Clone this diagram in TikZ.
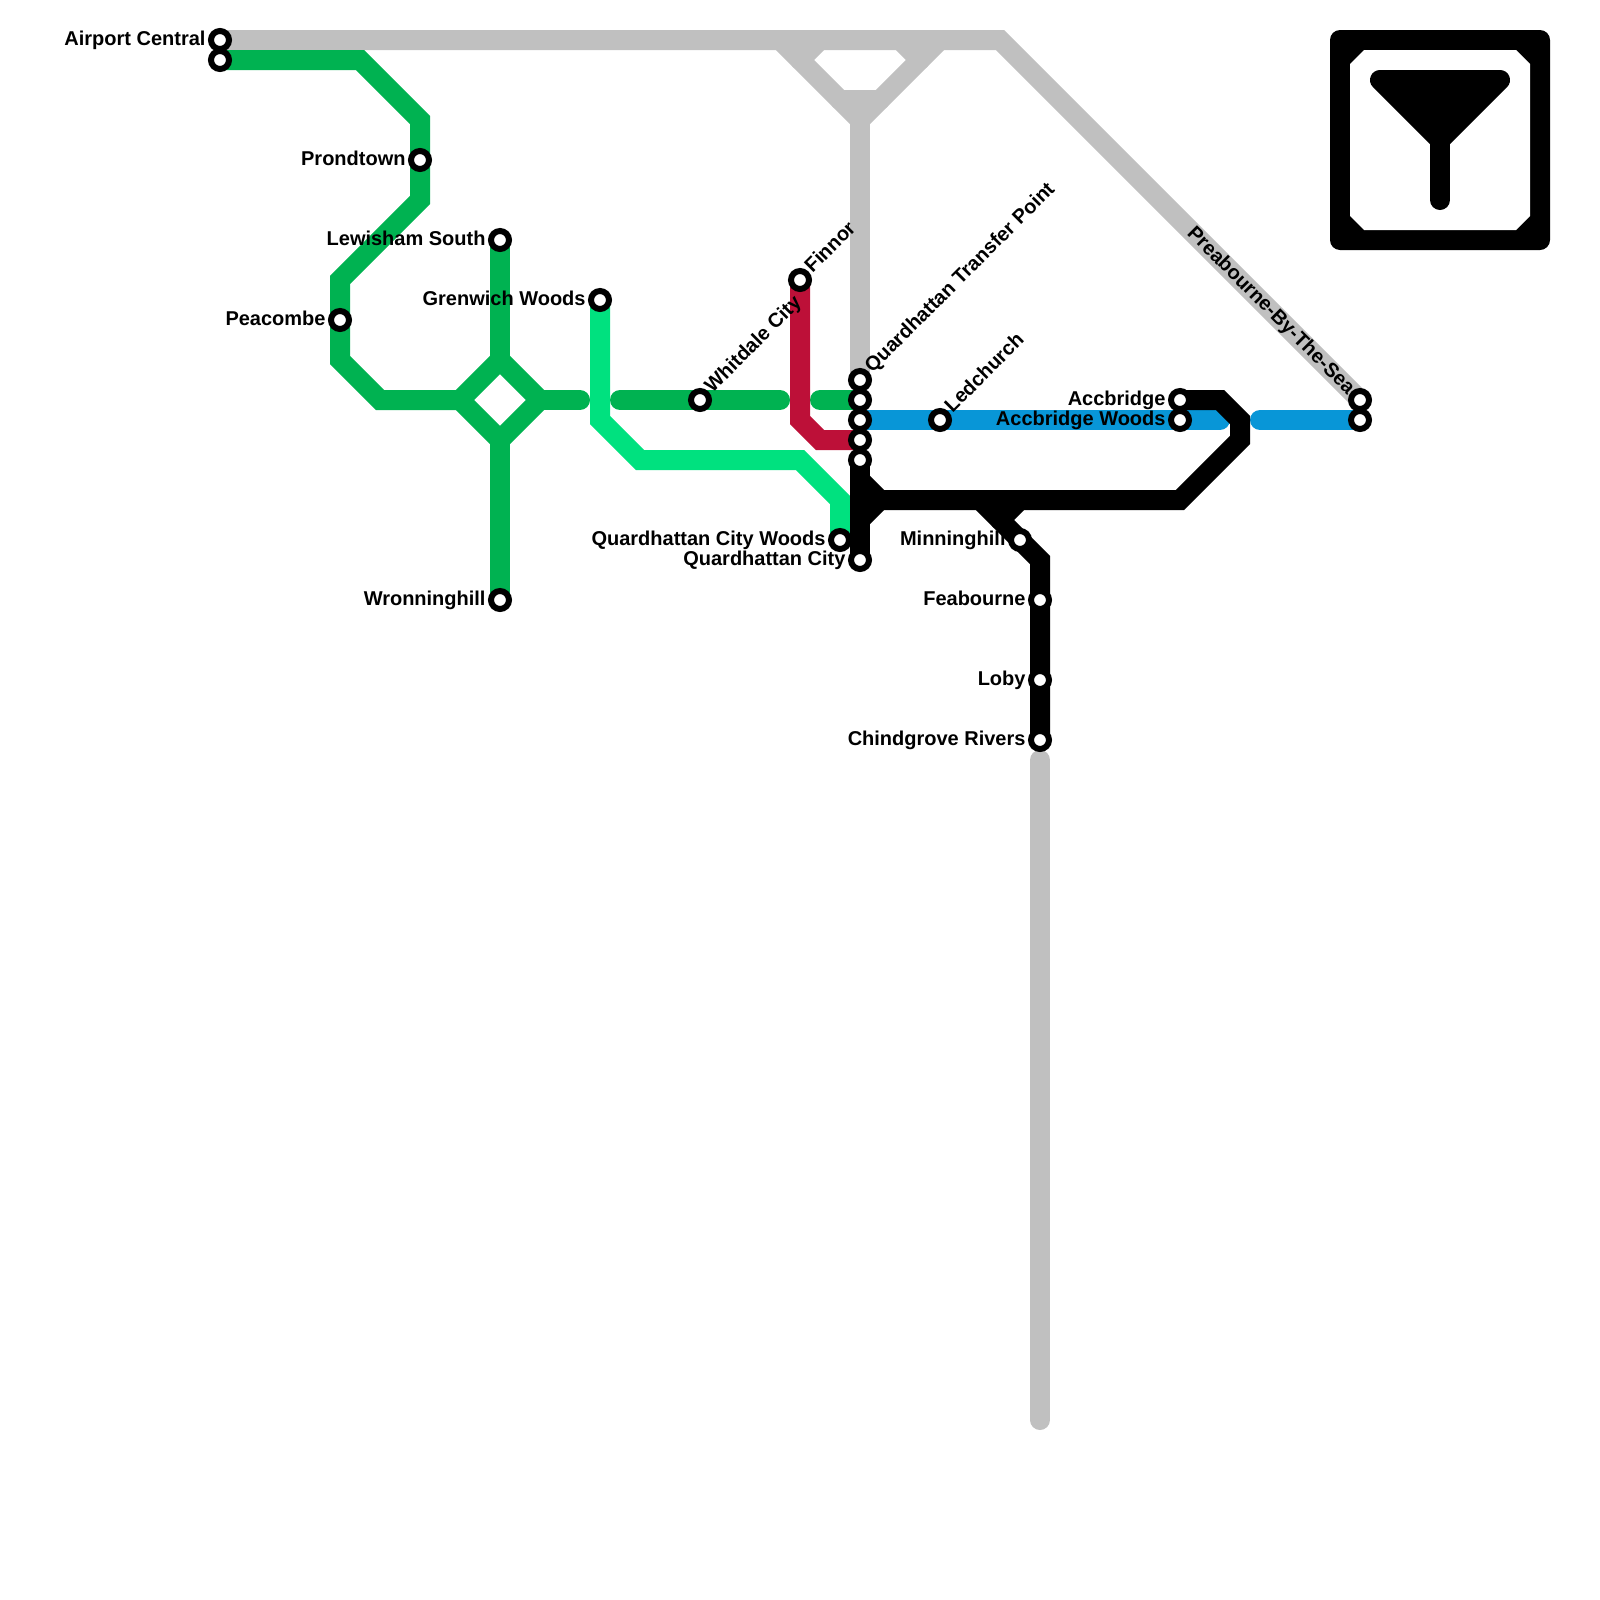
\documentclass[tikz,border=0pt]{standalone}
\usepackage{fontspec}
\setmainfont{Liberation Sans}
\usetikzlibrary{positioning, backgrounds}
\definecolor{gris}{HTML}{C0C0C0}
\definecolor{verde}{HTML}{00B251}
\definecolor{menta}{HTML}{00E17F}
\definecolor{rojo}{HTML}{BD1038}
\definecolor{azul}{HTML}{0896D7}
\tikzset{
  every picture/.style={x=0.5cm, y=-0.5cm},
  ruta/.style={line width=0.5cm, line cap=round, line join=miter},
  stn/.style={circle, draw=black, fill=white, line width=0.15cm, minimum size=0.45cm, inner sep=0pt},
  etq/.style={font=\fontsize{14.22pt}{16pt}\selectfont\bfseries, text=black, inner sep=0pt, text height=8pt, text depth=0pt},
}

\begin{document}
\begin{tikzpicture}
  \useasboundingbox (0,0) rectangle (80,80);
  \foreach \n/\x/\y in {airporta/11/2,airportb/11/3,prond/21/8,lewis/25/12,peac/17/16,gren/30/15,
    wronn/25/30,whit/35/20,finnor/40/14,qtp/43/19,qb/43/20,qc/43/21,qd/43/22,qe/43/23,ledch/47/21,
    accb/59/20,accbw/59/21,preaa/68/20,preab/68/21,qcw/42/27,qcity/43/28,minn/51/27,
    fea/52/30,loby/52/34,chind/52/37} {
    \node[stn] (\n) at (\x,\y) {};
  }
  \coordinate (top1) at (41,2);
  \coordinate (top2) at (45,2);
  \coordinate (tail) at (52,71);
  \coordinate (tailb) at (52,38);

  % lines go under the stations
  \begin{scope}[on background layer]
    \draw[ruta, gris] (airporta.center) -- (50,2) -- (preaa.center);
    \draw[ruta, gris] (39,2) -- (43,6) -- (47,2);
    \draw[ruta, gris] (top1) -- (40,3);
    \draw[ruta, gris] (top2) -- (46,3);
    \draw[ruta, gris] (42,5) -- (44,5);
    \draw[ruta, gris] (43,6) -- (qtp.center);
    \draw[ruta, gris] (tailb) -- (tail);

    \draw[ruta, verde] (airportb.center) -- (18,3) -- (21,6) -- (prond.center) -- (21,10) -- (17,14)
      -- (peac.center) -- (17,18) -- (19,20) -- (23,20);
    \draw[ruta, verde] (lewis.center) -- (25,18);
    \draw[ruta, verde] (25,18) -- (23,20) -- (25,22) -- (27,20) -- cycle;
    \draw[ruta, verde] (27,20) -- (29,20);
    \draw[ruta, verde] (25,22) -- (wronn.center);
    \draw[ruta, verde] (31,20) -- (whit.center) -- (39,20);
    \draw[ruta, verde] (41,20) -- (qb.center);

    \draw[ruta, menta] (gren.center) -- (30,21) -- (32,23) -- (40,23) -- (42,25) -- (qcw.center);
    \draw[ruta, rojo] (finnor.center) -- (40,21) -- (41,22) -- (qd.center);
    \draw[ruta, azul] (qc.center) -- (accbw.center) -- (61,21);
    \draw[ruta, azul] (63,21) -- (preab.center);

    \draw[ruta, black] (qe.center) -- (qcity.center);
    \draw[ruta, black] (43,24) -- (44,25) -- (43,26);
    \draw[ruta, black] (44,25) -- (59,25) -- (62,22) -- (62,21) -- (61,20) -- (accb.center);
    \draw[ruta, black] (49,25) -- (52,28) -- (chind.center);
    \draw[ruta, black] (51,25) -- (50,26);
  \end{scope}

  \foreach \n/\t in {airporta/Airport Central,prond/Prondtown,lewis/Lewisham South,peac/Peacombe,
    gren/Grenwich Woods,wronn/Wronninghill,qcw/Quardhattan City Woods,qcity/Quardhattan City,
    minn/Minninghill,fea/Feabourne,loby/Loby,chind/Chindgrove Rivers,accb/Accbridge,accbw/Accbridge Woods} {
    \node[etq, left=0.055cm of \n] (l\n) {\t};
  }
  \foreach \n/\t in {finnor/Finnor,whit/Whitdale City,qtp/Quardhattan Transfer Point,ledch/Ledchurch} {
    \node[etq, rotate=45, anchor=west, xshift=0.03cm, yshift=0.03cm] (l\n) at (\n.45) {\t};
  }
  \node[etq, rotate=-45, anchor=east] (lpreaa) at (preaa.135) {Preabourne-By-The-Sea};

  % filter button
  \fill[black, rounded corners=0.25cm] (66.5,1.5) rectangle (77.5,12.5);
  \fill[white] (68.2,2.5) -- (75.8,2.5) -- (76.5,3.2) -- (76.5,10.8) -- (75.8,11.5) -- (68.2,11.5) -- (67.5,10.8) -- (67.5,3.2) -- cycle;
  \draw[ruta, black, fill=black, line join=round] (69,4) -- (75,4) -- (72,7) -- cycle;
  \draw[ruta, black] (72,7) -- (72,10);
\end{tikzpicture}
\end{document}
